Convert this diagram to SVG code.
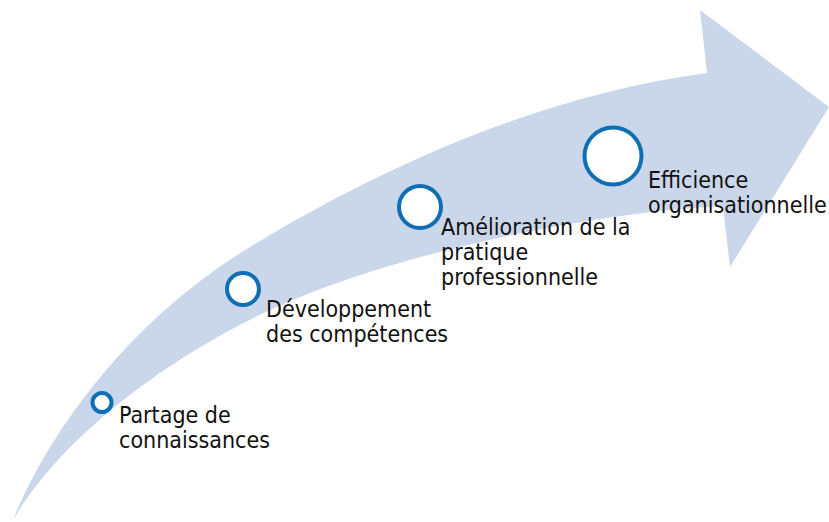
<svg xmlns="http://www.w3.org/2000/svg" width="829" height="522" viewBox="0 0 829 522">
<style>
.lbl{font-family:"DejaVu Sans Condensed","DejaVu Sans",sans-serif;font-size:23px;fill:#111}
.dot{fill:#fff;stroke:#0f6fb4;stroke-width:4}
</style>
<rect width="829" height="522" fill="#fff"/>
<g id="arrow">
<path d="M13,520 C50,430 130,320 250,247 C380,168 540,95 707,73 L700,10 L829,107 L730,267 L723,206 C600,212 400,250 270,310 C160,362 60,440 13,520 Z" fill="#cad7ea"/>
</g>
<g id="n1"><circle class="dot" cx="102" cy="402.5" r="9.5"/><text class="lbl" x="119" y="423">Partage de</text><text class="lbl" x="119" y="448">connaissances</text></g>
<g id="n2"><circle class="dot" cx="243" cy="289" r="16"/><text class="lbl" x="266" y="317">Développement</text><text class="lbl" x="266" y="342">des compétences</text></g>
<g id="n3"><circle class="dot" cx="420" cy="207" r="21"/><text class="lbl" x="441" y="235">Amélioration de la</text><text class="lbl" x="441" y="260">pratique</text><text class="lbl" x="441" y="285">professionnelle</text></g>
<g id="n4"><circle class="dot" cx="613" cy="156" r="28.5"/><text class="lbl" x="648" y="188">Efficience</text><text class="lbl" x="648" y="213">organisationnelle</text></g>
</svg>
